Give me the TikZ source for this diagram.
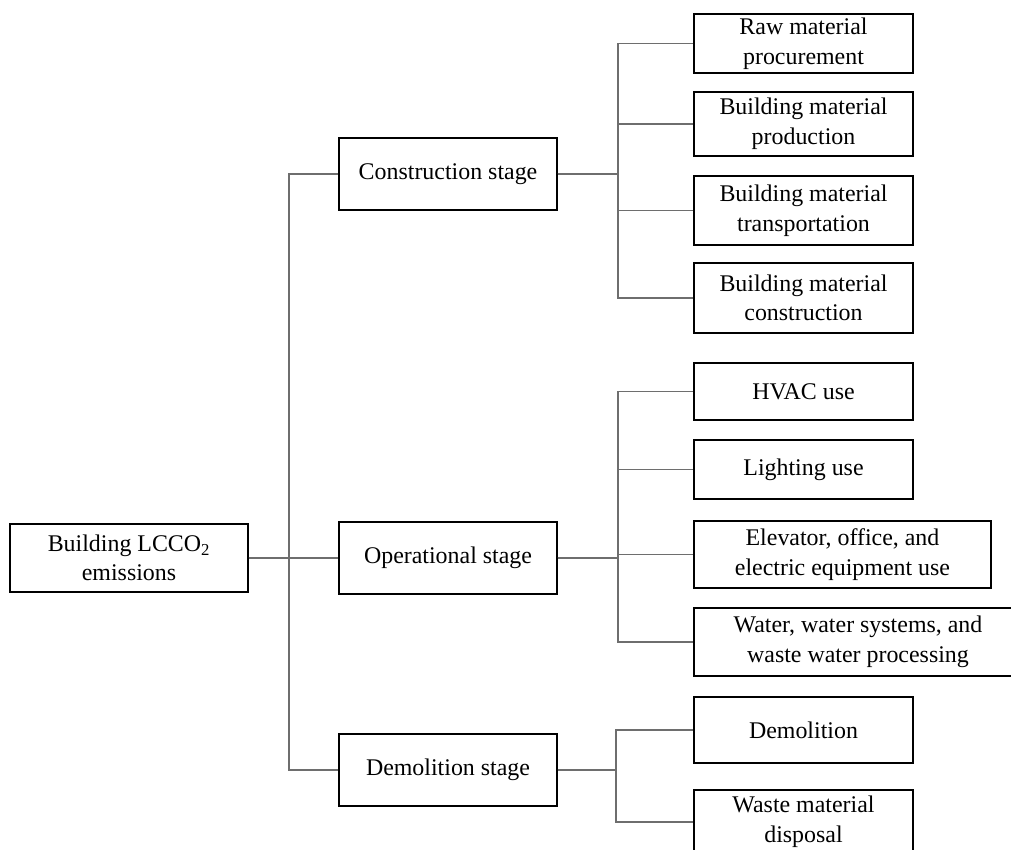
\documentclass[tikz,border=0pt]{standalone}
\usepackage{fontspec}
\setmainfont{Liberation Serif}
\usepackage{xcolor}
\definecolor{linkgray}{RGB}{110,110,110}
\usepackage{tikz}
\usetikzlibrary{positioning,calc}

\begin{document}
\begin{tikzpicture}[
        x=0.025cm, y=-0.025cm,
        box/.style={rectangle, draw=black, line width=1pt, align=center, inner sep=0pt, minimum width=5.475cm, minimum height=1.55cm, font=\fontsize{17}{21}\selectfont},
        stagebox/.style={box, minimum width=5.45cm, minimum height=1.8cm},
        link/.style={draw=linkgray, line width=1.1pt}
    ]
        \clip (0,0) rectangle (1011,849);

        \node[box, minimum width=5.95cm, minimum height=1.7cm] (root) at (129,558) {Building LCCO\textsubscript{2}\\emissions};

        \node[stagebox] (constr) at (448,174) {Construction stage};
        \node[stagebox] (oper) at (448,558) {Operational stage};
        \node[stagebox] (demol) at (448,770) {Demolition stage};

        \node[box, minimum height=1.475cm] (raw) at (803.5,43.5) {Raw material\\procurement};
        \node[box, minimum height=1.6cm] (prod) at (803.5,124) {Building material\\production};
        \node[box, minimum height=1.725cm] (trans) at (803.5,210.5) {Building material\\transportation};
        \node[box, minimum height=1.75cm] (build) at (803.5,298) {Building material\\construction};

        \node[box, minimum height=1.425cm] (hvac) at (803.5,391.5) {HVAC use};
        \node[box, minimum height=1.475cm] (light) at (803.5,469.5) {Lighting use};
        \node[box, minimum width=7.425cm, minimum height=1.675cm] (elev) at (842.5,554.5) {Elevator, office, and\\electric equipment use};
        \node[box, minimum width=8.2cm, minimum height=1.7cm] (water) at (858,642) {Water, water systems, and\\waste water processing};

        \node[box, minimum height=1.65cm] (demo) at (803.5,730) {Demolition};
        \node[box, minimum height=1.6cm] (waste) at (803.5,822) {Waste material\\disposal};

        % root to stages
        \draw[link] (root.east) -- ++(40,0) |- (constr.west);
        \draw[link] (root.east) -- (oper.west);
        \draw[link] (root.east) -- ++(40,0) |- (demol.west);

        % construction stage
        \draw[link] (constr.east) -- ++(60,0) |- (raw.west);
        \draw[link] (constr.east) -- ++(60,0) |- (prod.west);
        \draw[link] (constr.east) -- ++(60,0) |- (trans.west);
        \draw[link] (constr.east) -- ++(60,0) |- (build.west);

        % operational stage
        \draw[link] (oper.east) -- ++(60,0) |- (hvac.west);
        \draw[link] (oper.east) -- ++(60,0) |- (light.west);
        \draw[link] (oper.east) -- ++(60,0) |- (elev.west);
        \draw[link] (oper.east) -- ++(60,0) |- (water.west);

        % demolition stage
        \draw[link] (demol.east) -- ++(58,0) |- (demo.west);
        \draw[link] (demol.east) -- ++(58,0) |- (waste.west);
    \end{tikzpicture}
\end{document}
